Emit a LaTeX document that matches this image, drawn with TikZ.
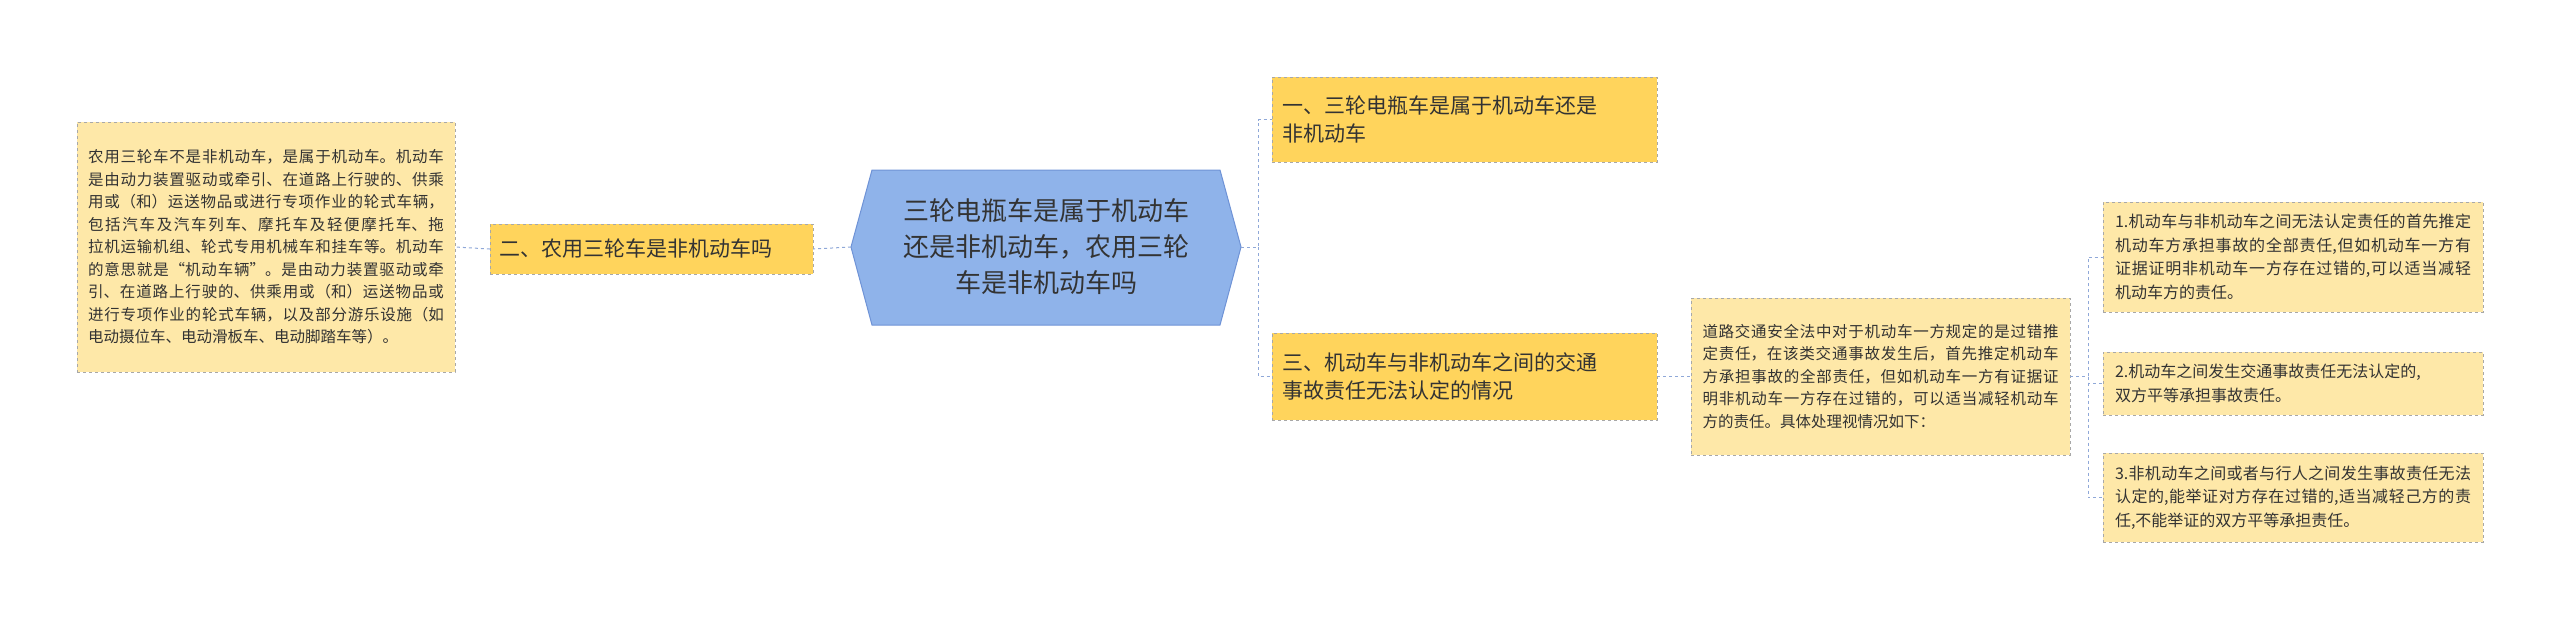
\documentclass[tikz,border=0pt]{standalone}
\usepackage{fontspec}
\setmainfont{Noto Sans CJK SC}
\XeTeXlinebreaklocale "zh"
\XeTeXlinebreakskip=0pt plus 1pt
\usetikzlibrary{shapes.geometric}
\definecolor{lvl}{HTML}{FFD45C}
\definecolor{leaf}{HTML}{FEE8A8}
\definecolor{ctr}{HTML}{8FB3EA}
\definecolor{ctrb}{HTML}{6F93D6}
\definecolor{ln}{HTML}{8FA8D8}
\definecolor{bd}{HTML}{A8A8A8}
\definecolor{tx}{HTML}{333333}
\tikzset{
 x=1pt,y=-1pt,
 lvlbox/.style={draw=bd,dashed,fill=lvl,text=tx,align=left,inner sep=0pt,anchor=center,font=\fontsize{21}{28}\selectfont},
 leafbox/.style={draw=bd,dashed,fill=leaf,text=tx,align=justify,inner sep=0pt,anchor=center,font=\fontsize{15.5}{22.5}\selectfont},
 conn/.style={draw=ln,dashed,line width=1pt},
}
\begin{document}
\begin{tikzpicture}
\useasboundingbox (0,0) rectangle (2560,619);
% center hexagon
\coordinate (c) at (1046,247);
\fill[ctr,draw=ctrb,line width=1pt] (851,247) -- (872,170) -- (1220,170) -- (1241,247) -- (1220,325) -- (872,325) -- cycle;
\node[text=tx,align=center,font=\fontsize{26}{36}\selectfont] (center) at (c) {三轮电瓶车是属于机动车\\还是非机动车，农用三轮\\车是非机动车吗};
\coordinate (cl) at (851,247);
\coordinate (cr) at (1241,247);
% level 1
\node[lvlbox,minimum width=385pt,minimum height=85pt,text width=365pt] (b1) at (1464.5,119.5) {一、三轮电瓶车是属于机动车还是\\非机动车};
\node[lvlbox,minimum width=385pt,minimum height=87pt,text width=365pt] (b3) at (1464.5,376.5) {三、机动车与非机动车之间的交通\\事故责任无法认定的情况};
\node[lvlbox,minimum width=323pt,minimum height=50pt,text width=305pt] (b2) at (651.5,249) {二、农用三轮车是非机动车吗};
% leaves
\node[leafbox,minimum width=378pt,minimum height=250pt,text width=356pt] (l1) at (266,247) {农用三轮车不是非机动车，是属于机动车。机动车是由动力装置驱动或牵引、在道路上行驶的、供乘用或（和）运送物品或进行专项作业的轮式车辆，包括汽车及汽车列车、摩托车及轻便摩托车、拖拉机运输机组、轮式专用机械车和挂车等。机动车的意思就是“机动车辆”。是由动力装置驱动或牵引、在道路上行驶的、供乘用或（和）运送物品或进行专项作业的轮式车辆，以及部分游乐设施（如电动摄位车、电动滑板车、电动脚踏车等）。};
\node[leafbox,minimum width=379pt,minimum height=157pt,text width=356pt] (m) at (1880.5,376.5) {道路交通安全法中对于机动车一方规定的是过错推定责任，在该类交通事故发生后，首先推定机动车方承担事故的全部责任，但如机动车一方有证据证明非机动车一方存在过错的，可以适当减轻机动车方的责任。具体处理视情况如下：};
\node[leafbox,font=\fontsize{16}{23.5}\selectfont,minimum width=380pt,minimum height=110pt,text width=356pt] (r1) at (2293,257) {1.机动车与非机动车之间无法认定责任的首先推定机动车方承担事故的全部责任,但如机动车一方有证据证明非机动车一方存在过错的,可以适当减轻机动车方的责任。};
\node[leafbox,font=\fontsize{16}{23.5}\selectfont,align=left,minimum width=380pt,minimum height=63pt,text width=356pt] (r2) at (2293,383.5) {2.机动车之间发生交通事故责任无法认定的,\\双方平等承担事故责任。};
\node[leafbox,font=\fontsize{16}{23.5}\selectfont,minimum width=380pt,minimum height=89pt,text width=356pt] (r3) at (2293,497.5) {3.非机动车之间或者与行人之间发生事故责任无法认定的,能举证对方存在过错的,适当减轻己方的责任,不能举证的双方平等承担责任。};
% connectors
\draw[conn] (cr) -- (1258,247) |- (b1.west);
\draw[conn] (1258,247) |- (b3.west);
\draw[conn] (cl) -- (b2.east);
\draw[conn] (b2.west) -- (l1.east);
\draw[conn] (b3.east) -- (m.west);
\draw[conn] (m.east) -- (2088,376.5) |- (r1.west);
\draw[conn] (2088,376.5) |- (r2.west);
\draw[conn] (2088,376.5) |- (r3.west);
\end{tikzpicture}
\end{document}
